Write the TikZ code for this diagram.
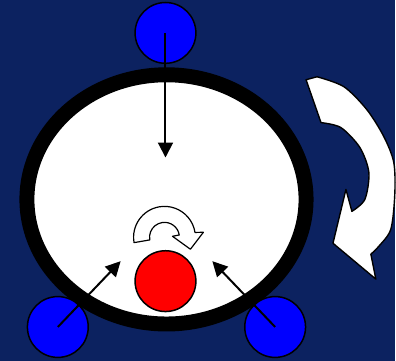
\documentclass[tikz,border=0pt]{standalone}
\usetikzlibrary{arrows.meta}
\definecolor{navy}{RGB}{12,34,96}
\definecolor{puckblue}{RGB}{0,0,255}
\definecolor{ballred}{RGB}{255,0,0}
\tikzset{
    wheel/.style={circle, draw=black, line width=1.5pt, minimum size=61pt, inner sep=0pt},
    push/.style={line width=2pt, -{Triangle[length=15pt,width=15pt]}},
    turn/.style={draw=black, fill=white, line width=1.4pt, line join=round}
}
\begin{document}
\begin{tikzpicture}[x=1pt,y=-1pt]
    \fill[navy] (0,0) rectangle (396,362);
    \draw[line width=15pt, fill=white] (167,200) ellipse [x radius=140, y radius=125];
    \foreach \name/\x/\y in {ctop/166/33, cleft/58/328, cright/276/328} {
        \node[wheel, fill=puckblue] (\name) at (\x,\y) {};
    }
    \node[wheel, fill=ballred] (ball) at (166,282) {};
    \coordinate (tipTop) at (166,158);
    \coordinate (tipLeft) at (121,262);
    \coordinate (tipRight) at (213,262);
    \draw[push] (ctop.center) -- (tipTop);
    \draw[push] (cleft.center) -- (tipLeft);
    \draw[push] (cright.center) -- (tipRight);
    % small spin arrow above the ball
    \draw[turn, line width=1.2pt] (165,238) ++(170:31) arc[start angle=170, end angle=351, radius=31]
        -- (204,233) -- (191,250) -- (173,237) -- (179.8,235.7)
        arc[start angle=351, end angle=170, radius=15] -- cycle;
    % big rotation arrow on the right
    \draw[turn] (307,80) -- plot[smooth] coordinates {(318,77) (345,87) (368,110) (385,137) (395,163) (396,195) (392,230) (380,247) (372,255)}
        -- (377,280) -- (334,244) -- (347,190)
        -- plot[smooth] coordinates {(353,212) (366,200) (370,173) (361,148) (342,128) (322,123)} -- cycle;
\end{tikzpicture}
\end{document}
